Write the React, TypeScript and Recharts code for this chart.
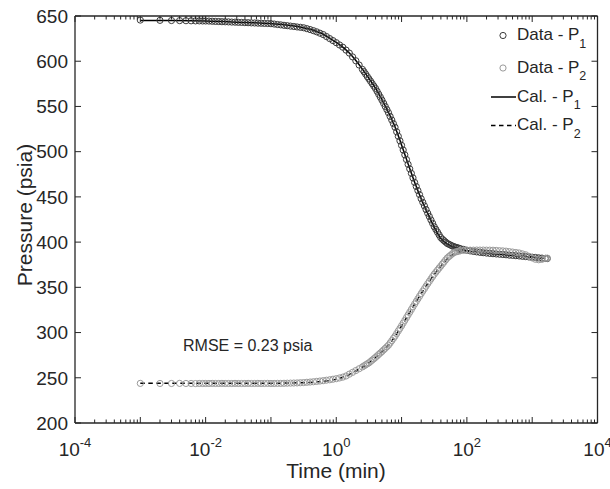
import React from 'react';
import { ComposedChart, XAxis, YAxis, Scatter, Line, Customized } from 'recharts';

// ---- measured data (time in min, pressure in psia) ----
const dataTime = [
  0.001, 0.002, 0.003, 0.004, 0.005, 0.006, 0.007, 0.008, 0.009, 0.010,
  0.01122, 0.01259, 0.01413, 0.01585, 0.01778, 0.01995, 0.02239, 0.02512, 0.02818, 0.03162,
  0.03548, 0.03981, 0.04467, 0.05012, 0.05623, 0.06310, 0.07079, 0.07943, 0.08913, 0.1000,
  0.1122, 0.1259, 0.1413, 0.1585, 0.1778, 0.1995, 0.2239, 0.2512, 0.2818, 0.3162,
  0.3548, 0.3981, 0.4467, 0.5012, 0.5623, 0.6310, 0.7079, 0.7943, 0.8913, 1.000,
  1.122, 1.259, 1.413, 1.585, 1.778, 1.995, 2.239, 2.512,
  2.661, 2.818, 2.985, 3.162, 3.350, 3.548, 3.758, 3.981, 4.217, 4.467,
  4.732, 5.012, 5.309, 5.623, 5.957, 6.310, 6.683, 7.079, 7.499, 7.943,
  8.414, 8.913, 9.441, 10.00, 10.59, 11.22, 11.89, 12.59, 13.34, 14.13,
  14.96, 15.85, 16.79, 17.78, 18.84, 19.95, 21.13, 22.39, 23.71, 25.12,
  26.61, 28.18, 29.85, 31.62, 33.50, 35.48, 37.58, 39.81, 42.17, 44.67,
  47.32, 50.12, 53.09, 56.23, 59.57, 63.10, 66.83, 70.79, 74.99, 79.43,
  89.13, 100.0, 112.2, 125.9, 141.3, 158.5, 177.8, 199.5, 223.9, 251.2,
  281.8, 316.2, 354.8, 398.1, 446.7, 501.2, 562.3, 631.0, 707.9, 794.3,
  891.3, 1000, 1122, 1259, 1413, 1585, 1700,
];

const p1Measured = [
  645.5, 645.2, 645.0, 644.9, 644.8, 644.7, 644.6, 644.6, 644.5, 644.5,
  644.4, 644.2, 644.0, 643.9, 643.7, 643.6, 643.5, 643.3, 643.2, 643.0,
  642.9, 642.7, 642.6, 642.4, 642.3, 642.1, 642.0, 641.8, 641.7, 641.5,
  641.1, 640.6, 640.2, 639.7, 639.3, 638.8, 638.4, 637.9, 637.5, 637.0,
  636.0, 635.0, 633.8, 632.5, 631.0, 629.5, 627.3, 625.0, 622.8, 620.5,
  618.0, 615.5, 612.3, 609.0, 604.8, 600.5, 595.8, 591.0,
  588.4, 585.8, 583.1, 580.5, 577.9, 575.3, 572.6, 570.0, 566.8, 563.5,
  560.3, 557.0, 553.5, 550.0, 546.5, 543.0, 539.0, 535.0, 531.0, 527.0,
  522.0, 517.0, 512.0, 507.0, 501.8, 496.5, 491.3, 486.0, 481.0, 476.0,
  471.0, 466.0, 461.5, 457.0, 452.5, 448.0, 444.0, 440.0, 436.0, 432.0,
  428.3, 424.5, 420.8, 417.0, 414.0, 411.0, 408.0, 405.0, 403.2, 401.6,
  400.0, 398.5, 397.6, 396.7, 395.8, 395.0, 394.4, 393.9, 393.3, 392.8,
  391.9, 391.0, 390.3, 389.7, 389.2, 388.7, 388.3, 387.9, 387.5, 387.2,
  386.9, 386.6, 386.3, 386.0, 385.6, 385.3, 385.0, 384.7, 384.3, 384.0,
  383.6, 383.3, 383.0, 382.6, 382.3, 382.0, 381.8,
];

const p2Measured = [
  243.8, 243.7, 243.7, 243.8, 243.7, 243.7, 243.6, 243.7, 243.7, 243.7,
  243.7, 243.8, 243.7, 243.7, 243.8, 243.7, 243.7, 243.7, 243.8, 243.7,
  243.7, 243.7, 243.8, 243.7, 243.7, 243.8, 243.7, 243.7, 243.8, 243.7,
  243.7, 243.8, 243.8, 243.9, 244.0, 244.1, 244.2, 244.3, 244.5, 244.7,
  245.0, 245.3, 245.6, 246.0, 246.4, 246.8, 247.3, 247.8, 248.4, 249.0,
  249.8, 250.7, 252.0, 254.0, 256.0, 258.0, 260.0, 262.0,
  263.1, 264.3, 265.4, 266.5, 268.0, 269.5, 271.0, 272.5, 274.1, 275.8,
  277.4, 279.0, 280.8, 282.5, 284.3, 286.0, 288.5, 291.0, 293.5, 296.0,
  298.9, 301.8, 304.6, 307.5, 310.5, 313.5, 316.5, 319.5, 322.5, 325.5,
  328.5, 331.5, 334.4, 337.3, 340.1, 343.0, 345.8, 348.5, 351.3, 354.0,
  356.6, 359.3, 361.9, 364.5, 366.8, 369.0, 371.3, 373.5, 375.8, 378.0,
  380.3, 382.5, 384.0, 385.5, 387.0, 388.5, 389.0, 389.5, 390.0, 390.5,
  390.8, 391.0, 391.1, 391.1, 391.2, 391.2, 391.2, 391.1, 391.1, 391.0,
  390.8, 390.5, 390.3, 390.0, 389.5, 389.0, 388.5, 388.0, 387.0, 386.0,
  384.3, 382.5, 381.0, 380.5, 381.0, 382.0, 382.3,
];

// ---- calculated (model) curves ----
const calTime = [
  0.001, 0.003162, 0.01, 0.03162, 0.1, 0.1585, 0.2512, 0.3981, 0.5012, 0.6310,
  0.7943, 1, 1.259, 1.585, 1.995, 2.512, 3.162, 3.981, 5.012, 6.310,
  7.943, 10, 12.59, 15.85, 19.95, 25.12, 31.62, 39.81, 50.12, 63.10,
  79.43, 100, 158.5, 251.2, 398.1, 631.0, 1000, 1500,
];

const p1Calculated = [
  645.0, 644.9, 644.5, 643.2, 641.6, 640.4, 638.5, 635.3, 632.8, 629.8,
  625.6, 620.8, 615.6, 609.0, 600.8, 591.3, 581.0, 570.2, 557.4, 543.3,
  527.3, 507.5, 486.5, 466.2, 448.0, 431.8, 416.5, 404.2, 397.8, 394.5,
  392.3, 390.6, 388.5, 387.1, 385.9, 384.6, 383.2, 382.2,
];

const p2Calculated = [
  243.9, 243.9, 243.9, 243.9, 244.0, 244.1, 244.4, 244.9, 245.4, 246.0,
  247.0, 248.5, 250.5, 253.5, 257.5, 261.8, 266.5, 272.3, 278.8, 286.0,
  295.8, 307.3, 319.3, 331.4, 343.0, 354.0, 364.3, 373.3, 381.5, 386.8,
  389.3, 390.2, 389.3, 388.0, 386.6, 385.2, 383.6, 382.5,
];

// ---- axes ----
const xDecades = [-4, -3, -2, -1, 0, 1, 2, 3];
const xMantissas = [1, 2, 3, 4, 5, 6, 7, 8, 9];
const xTicks = [...xDecades.flatMap((d) => xMantissas.map((m) => m * Math.pow(10, d))), 1e4];
const yTicks = [200, 250, 300, 350, 400, 450, 500, 550, 600, 650];

const xLabel = 'Time (min)';
const yLabel = 'Pressure (psia)';
const rmseText = 'RMSE = 0.23 psia';
const legendItems = [
  { name: 'Data - P', sub: '1', kind: 'ring', color: '#3a3a3a' },
  { name: 'Data - P', sub: '2', kind: 'ring', color: '#9a9a9a' },
  { name: 'Cal. - P', sub: '1', kind: 'solid', color: '#000000' },
  { name: 'Cal. - P', sub: '2', kind: 'dash', color: '#000000' },
];

const p1Data = dataTime.map((t, i) => ({ t, p: p1Measured[i] }));
const p2Data = dataTime.map((t, i) => ({ t, p: p2Measured[i] }));
const p1Cal = calTime.map((t, i) => ({ t, p: p1Calculated[i] }));
const p2Cal = calTime.map((t, i) => ({ t, p: p2Calculated[i] }));

const FRAME = '#262626';
const TEXT = '#262626';
const FONT = "'Liberation Sans', Arial, Helvetica, sans-serif";

function decadeInfo(v: number) {
  const lg = Math.log10(v);
  const e = Math.round(lg);
  return { e, major: Math.abs(lg - e) < 1e-6 };
}

function BottomTick(props: any) {
  const { x, y, payload } = props;
  const { e, major } = decadeInfo(payload.value);
  return (
    <g>
      <line x1={x} x2={x} y1={y} y2={y - (major ? 6 : 3.5)} stroke={FRAME} strokeWidth={1} />
      {major && e % 2 === 0 ? (
        <text x={x} y={y + 33} textAnchor="middle" fontSize={19} fill={TEXT} fontFamily={FONT}>
          10<tspan dy={-9.5} fontSize={13}>{String(e)}</tspan>
        </text>
      ) : null}
    </g>
  );
}

function TopTick(props: any) {
  const { x, y, payload } = props;
  const { major } = decadeInfo(payload.value);
  return <line x1={x} x2={x} y1={y} y2={y + (major ? 6 : 3.5)} stroke={FRAME} strokeWidth={1} />;
}

function LeftTick(props: any) {
  const { x, y, payload } = props;
  return (
    <g>
      <line x1={x} x2={x + 6} y1={y} y2={y} stroke={FRAME} strokeWidth={1} />
      <text x={x - 7} y={y + 6.8} textAnchor="end" fontSize={19} fill={TEXT} fontFamily={FONT}>
        {payload.value}
      </text>
    </g>
  );
}

function RightTick(props: any) {
  const { x, y } = props;
  return <line x1={x} x2={x - 6} y1={y} y2={y} stroke={FRAME} strokeWidth={1} />;
}

const ring = (color: string) => (props: any) => (
  <circle cx={props.cx} cy={props.cy} r={3.1} fill="none" stroke={color} strokeWidth={1} />
);

function Annotations() {
  const rows = [40, 72.5, 101.5, 130];
  return (
    <g fontFamily={FONT} fill={TEXT}>
      <text x={336} y={478} textAnchor="middle" fontSize={21}>{xLabel}</text>
      <text x={31.5} y={215} textAnchor="middle" fontSize={21} transform="rotate(-90 31.5 215)">{yLabel}</text>
      <text x={183} y={351} fontSize={16}>{rmseText}</text>
      {legendItems.map((it, i) => {
        const by = rows[i];
        const my = by - 4.5;
        return (
          <g key={i}>
            {it.kind === 'ring' ? (
              <circle cx={503} cy={my} r={3.1} fill="none" stroke={it.color} strokeWidth={1} />
            ) : (
              <line x1={491} x2={516} y1={my} y2={my} stroke="#000" strokeWidth={1.5}
                strokeDasharray={it.kind === 'dash' ? '4.5 3.5' : undefined} />
            )}
            <text x={517} y={by} fontSize={17}>
              {it.name}
              <tspan dy={7.5} fontSize={12.5}>{it.sub}</tspan>
            </text>
          </g>
        );
      })}
    </g>
  );
}

export default function App() {
  return (
    <div style={{ position: 'absolute', left: 0, top: 0, width: 610, height: 489, background: '#fff' }}>
      <ComposedChart width={610} height={489} margin={{ top: 0, right: 0, bottom: 0, left: 0 }}>
        <XAxis
          xAxisId="b"
          dataKey="t"
          type="number"
          scale="log"
          domain={[1e-4, 1e4]}
          allowDataOverflow
          ticks={xTicks}
          interval={0}
          tickSize={0}
          tickMargin={0}
          tickLine={false}
          tick={<BottomTick />}
          height={66}
          axisLine={{ stroke: FRAME, strokeWidth: 1.3 }}
        />
        <XAxis
          xAxisId="top"
          orientation="top"
          dataKey="t"
          type="number"
          scale="log"
          domain={[1e-4, 1e4]}
          allowDataOverflow
          ticks={xTicks}
          interval={0}
          tickSize={0}
          tickMargin={0}
          tickLine={false}
          tick={<TopTick />}
          height={16}
          axisLine={{ stroke: FRAME, strokeWidth: 1.3 }}
        />
        <YAxis
          yAxisId="l"
          type="number"
          domain={[200, 650]}
          allowDataOverflow
          ticks={yTicks}
          interval={0}
          tickSize={0}
          tickMargin={0}
          tickLine={false}
          tick={<LeftTick />}
          width={75}
          axisLine={{ stroke: FRAME, strokeWidth: 1.3 }}
        />
        <YAxis
          yAxisId="r"
          orientation="right"
          type="number"
          domain={[200, 650]}
          allowDataOverflow
          ticks={yTicks}
          interval={0}
          tickSize={0}
          tickMargin={0}
          tickLine={false}
          tick={<RightTick />}
          width={12.5}
          axisLine={{ stroke: FRAME, strokeWidth: 1.3 }}
        />
        <Scatter xAxisId="b" yAxisId="l" data={p1Data} dataKey="p" shape={ring('#3a3a3a')} isAnimationActive={false} />
        <Scatter xAxisId="b" yAxisId="l" data={p2Data} dataKey="p" shape={ring('#9a9a9a')} isAnimationActive={false} />
        <Line xAxisId="b" yAxisId="l" data={p1Cal} dataKey="p" type="monotone" stroke="#000" strokeWidth={1.5} dot={false} isAnimationActive={false} />
        <Line xAxisId="b" yAxisId="l" data={p2Cal} dataKey="p" type="monotone" stroke="#000" strokeWidth={1.5} strokeDasharray="4.5 3.5" dot={false} isAnimationActive={false} />
        <Customized component={Annotations} />
      </ComposedChart>
    </div>
  );
}
